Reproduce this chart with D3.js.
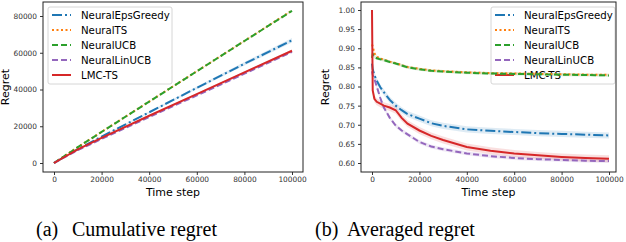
<!DOCTYPE html>
<html>
<head>
<meta charset="utf-8">
<script src="https://cdn.jsdelivr.net/npm/d3@7"></script>
<style>
  body { margin: 0; background: #fff; }
  svg { display: block; }
  .tick text { font-family: "DejaVu Sans", sans-serif; font-size: 7.4px; fill: #333; }
  .tick line { stroke: #333; }
  .domain { stroke: none; }
</style>
</head>
<body>
<svg width="626" height="242"></svg>
<script>
const names = ['NeuralEpsGreedy', 'NeuralTS', 'NeuralUCB', 'NeuralLinUCB', 'LMC-TS'];
const colors = ['#1f77b4', '#ff7f0e', '#2ca02c', '#9467bd', '#d62728'];
const dashes = ['10,3,2,3', '2,2.5', '6,3', '6,3', null];

// (a) cumulative regret
const cumSteps = [0, 10000, 20000, 40000, 60000, 80000, 100000];
const cumEps = [0, 7500, 14400, 27600, 40900, 54000, 66800];
const cumTS = [0, 8620, 16920, 33440, 49920, 66400, 83000];
const cumUCB = [0, 8600, 16900, 33400, 49900, 66400, 82800];
const cumLin = [0, 6980, 13100, 25000, 36800, 48600, 60500];
const cumLMC = [0, 7380, 13700, 25700, 37500, 49300, 61100];
const cumBand = [1200, 300, 300, 500, 700];
const cumTicksY = [0, 20000, 40000, 60000, 80000];

// (b) averaged regret
const avgSteps = [0, 300, 1000, 2000, 3500, 5000, 7500, 10000, 12500, 15000, 20000, 25000, 30000, 40000, 50000, 60000, 70000, 80000, 90000, 100000];
const avgEps = [0.86, 0.845, 0.83, 0.815, 0.798, 0.785, 0.765, 0.75, 0.738, 0.728, 0.716, 0.704, 0.697, 0.688, 0.684, 0.681, 0.678, 0.676, 0.674, 0.672];
const avgTS = [0.91, 0.905, 0.887, 0.878, 0.873, 0.870, 0.865, 0.861, 0.856, 0.851, 0.846, 0.842, 0.840, 0.837, 0.835, 0.834, 0.833, 0.832, 0.831, 0.831];
const avgUCB = [0.875, 0.885, 0.877, 0.874, 0.871, 0.869, 0.864, 0.860, 0.855, 0.850, 0.845, 0.841, 0.839, 0.836, 0.834, 0.833, 0.832, 0.831, 0.830, 0.829];
const avgLin = [0.84, 0.83, 0.82, 0.80, 0.77, 0.745, 0.718, 0.698, 0.685, 0.675, 0.655, 0.643, 0.636, 0.625, 0.618, 0.613, 0.610, 0.608, 0.606, 0.605];
const avgLMC = [1.0, 0.79, 0.768, 0.76, 0.755, 0.75, 0.745, 0.738, 0.718, 0.703, 0.685, 0.671, 0.66, 0.642, 0.632, 0.625, 0.62, 0.616, 0.613, 0.611];
const avgBand = [0.008, 0.003, 0.004, 0.005, 0.009];
const avgTicksY = [0.60, 0.65, 0.70, 0.75, 0.80, 0.85, 0.90, 0.95, 1.00];

const xTicks = [0, 20000, 40000, 60000, 80000, 100000];

const svg = d3.select('svg');

function panel(opt) {
  const x = d3.scaleLinear().domain([0, 100000]).range(opt.xr);
  const y = d3.scaleLinear().domain(opt.yd).range(opt.yr);
  const g = svg.append('g');
  const clipId = 'clip' + opt.id;
  g.append('defs').append('clipPath').attr('id', clipId)
    .append('rect').attr('x', opt.box[0]).attr('y', opt.box[1])
    .attr('width', opt.box[2] - opt.box[0]).attr('height', opt.box[3] - opt.box[1]);

  // legend sits under the data lines, as in the original
  const lg = g.append('g').attr('transform', `translate(${opt.legend[0]},${opt.legend[1]})`);
  lg.append('rect').attr('x', 0).attr('y', 0).attr('width', 124).attr('height', 77)
    .attr('rx', 2).attr('fill', '#fff').attr('fill-opacity', 0.8)
    .attr('stroke', '#ccc').attr('stroke-width', 0.8);
  names.forEach((n, i) => {
    const yy = 8 + i * 15;
    lg.append('line').attr('x1', 4).attr('x2', 23).attr('y1', yy).attr('y2', yy)
      .attr('stroke', colors[i]).attr('stroke-width', 2).attr('stroke-dasharray', dashes[i]);
    lg.append('text').attr('x', 33).attr('y', yy + 3.6)
      .attr('font-family', 'DejaVu Sans').attr('font-size', 10.2).text(n);
  });

  const plot = g.append('g').attr('clip-path', `url(#${clipId})`);
  const area = d3.area().x(d => x(d[0])).y0(d => y(d[1] - d[2])).y1(d => y(d[1] + d[2]));
  const line = d3.line().x(d => x(d[0])).y(d => y(d[1]));

  opt.series.forEach((vals, i) => {
    const pts = opt.steps.map((t, k) => [t, vals[k], opt.band[i] * (opt.bandScale ? opt.bandScale(t) : 1)]);
    plot.append('path').datum(pts).attr('d', area)
      .attr('fill', colors[i]).attr('fill-opacity', 0.15).attr('stroke', 'none');
  });
  opt.series.forEach((vals, i) => {
    const pts = opt.steps.map((t, k) => [t, vals[k]]);
    plot.append('path').datum(pts).attr('d', line)
      .attr('fill', 'none').attr('stroke', colors[i]).attr('stroke-width', 2)
      .attr('stroke-dasharray', dashes[i]);
  });

  g.append('g').attr('transform', `translate(0,${opt.box[3]})`)
    .call(d3.axisBottom(x).tickValues(xTicks).tickFormat(d3.format('d')).tickSize(3).tickPadding(2));
  g.append('g').attr('transform', `translate(${opt.box[0]},0)`)
    .call(d3.axisLeft(y).tickValues(opt.yTicks).tickFormat(opt.yFmt).tickSize(3).tickPadding(3));

  g.append('rect').attr('x', opt.box[0]).attr('y', opt.box[1])
    .attr('width', opt.box[2] - opt.box[0]).attr('height', opt.box[3] - opt.box[1])
    .attr('fill', 'none').attr('stroke', '#222').attr('stroke-width', 1);

  g.append('text').attr('x', (opt.box[0] + opt.box[2]) / 2).attr('y', 196)
    .attr('text-anchor', 'middle').attr('font-family', 'DejaVu Sans').attr('font-size', 11)
    .text('Time step');
  g.append('text').attr('transform', `translate(${opt.ylabX},${(opt.box[1] + opt.box[3]) / 2}) rotate(-90)`)
    .attr('text-anchor', 'middle').attr('font-family', 'DejaVu Sans').attr('font-size', 11)
    .text('Regret');
}

panel({
  id: 'a', xr: [54, 292], yd: [0, 80000], yr: [163, 16], box: [43, 2, 303, 172],
  steps: cumSteps, series: [cumEps, cumTS, cumUCB, cumLin, cumLMC], band: cumBand,
  bandScale: t => t / 100000,
  yTicks: cumTicksY, yFmt: d3.format('d'), ylabX: 9, legend: [48, 7]
});

panel({
  id: 'b', xr: [372, 609], yd: [0.60, 1.00], yr: [163, 10], box: [361, 2, 616, 172],
  steps: avgSteps, series: [avgEps, avgTS, avgUCB, avgLin, avgLMC], band: avgBand,
  yTicks: avgTicksY, yFmt: d3.format('.2f'), ylabX: 329, legend: [491, 7]
});

// captions
const cap = svg.append('g').attr('font-family', '"Liberation Serif", "Times New Roman", serif').attr('font-size', 20);
cap.append('text').attr('x', 36).attr('y', 236).text('(a)');
cap.append('text').attr('x', 72).attr('y', 236).text('Cumulative regret');
cap.append('text').attr('x', 315).attr('y', 236).text('(b)');
cap.append('text').attr('x', 347).attr('y', 236).text('Averaged regret');
</script>
</body>
</html>
